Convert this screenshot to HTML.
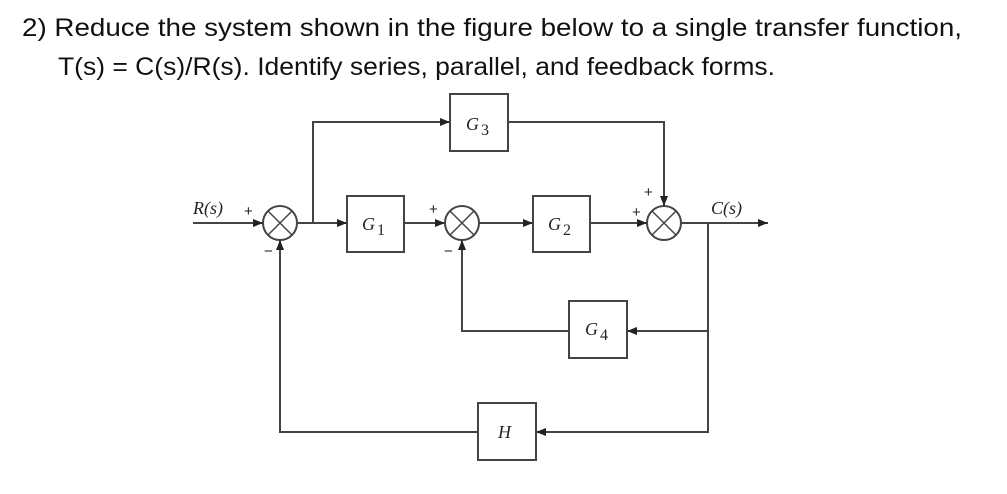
<!DOCTYPE html>
<html><head><meta charset="utf-8"><style>html,body{margin:0;padding:0;background:#fff}svg{display:block}</style></head>
<body>
<svg width="1007" height="494" xmlns="http://www.w3.org/2000/svg">
<defs><marker id="a" markerWidth="10" markerHeight="8" refX="10" refY="4" orient="auto" markerUnits="userSpaceOnUse"><path d="M0,0 L10,4 L0,8 z" fill="#222"/></marker></defs>
<g font-family="Liberation Sans, sans-serif" font-size="25" fill="#111">
<text x="22" y="36" textLength="940" lengthAdjust="spacingAndGlyphs">2)  Reduce the system shown in the figure below to a single transfer function,</text>
<text x="58" y="75" textLength="717" lengthAdjust="spacingAndGlyphs">T(s) = C(s)/R(s). Identify series, parallel, and feedback forms.</text>
</g>
<g stroke="#444" stroke-width="2" fill="none">
<rect x="450" y="94" width="58" height="57"/>
<rect x="347" y="196" width="57" height="56"/>
<rect x="533" y="196" width="57" height="56"/>
<rect x="569" y="301" width="58" height="57"/>
<rect x="478" y="403" width="58" height="57"/>
<circle cx="280" cy="223" r="17"/><circle cx="462" cy="223" r="17"/><circle cx="664" cy="223" r="17"/>
<path d="M268,211 L292,235 M292,211 L268,235 M450,211 L474,235 M474,211 L450,235 M652,211 L676,235 M676,211 L652,235" stroke-width="1.5"/>
<path d="M193,223 H263" marker-end="url(#a)"/>
<path d="M297,223 H347" marker-end="url(#a)"/>
<path d="M313,223 V122 H450" marker-end="url(#a)"/>
<path d="M404,223 H445" marker-end="url(#a)"/>
<path d="M479,223 H533" marker-end="url(#a)"/>
<path d="M590,223 H647" marker-end="url(#a)"/>
<path d="M508,122 H664 V206" marker-end="url(#a)"/>
<path d="M681,223 H768" marker-end="url(#a)"/>
<path d="M708,223 V432 H536" marker-end="url(#a)"/>
<path d="M708,331 H627" marker-end="url(#a)"/>
<path d="M569,331 H462 V240" marker-end="url(#a)"/>
<path d="M478,432 H280 V240" marker-end="url(#a)"/>
</g>
<g font-family="Liberation Serif, serif" font-style="italic" font-size="18" fill="#222">
<text x="466" y="130">G</text><text x="481" y="135" font-style="normal" font-size="16">3</text>
<text x="362" y="230">G</text><text x="377" y="235" font-style="normal" font-size="16">1</text>
<text x="548" y="230">G</text><text x="563" y="235" font-style="normal" font-size="16">2</text>
<text x="585" y="335">G</text><text x="600" y="340" font-style="normal" font-size="16">4</text>
<text x="498" y="438">H</text>
<text x="193" y="214">R(s)</text>
<text x="711" y="214">C(s)</text>
</g>
<g font-family="Liberation Sans, sans-serif" font-size="15" fill="#222">
<text x="244" y="216">+</text><text x="264" y="256">−</text>
<text x="429" y="214">+</text><text x="444" y="256">−</text>
<text x="632" y="217">+</text><text x="644" y="197">+</text>
</g>
</svg>
</body></html>
